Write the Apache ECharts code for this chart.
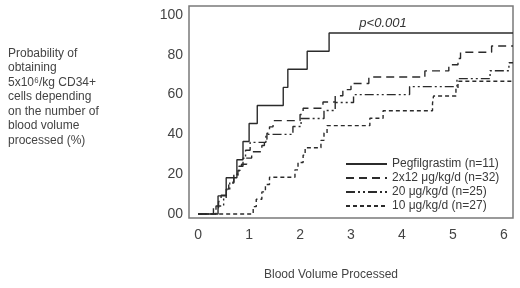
<!DOCTYPE html>
<html><head><meta charset="utf-8">
<script src="https://cdn.jsdelivr.net/npm/echarts@6/dist/echarts.min.js"></script>
<style>html,body{margin:0;padding:0;background:#fff}#c{width:520px;height:288px}</style>
</head><body><div id="c"></div>
<script>
// Data
const seriesNames = ['Pegfilgrastim (n=11)', '2x12 μg/kg/d (n=32)', '20 μg/kg/d (n=25)', '10 μg/kg/d (n=27)'];
const pegX = [0, 0.39, 0.55, 0.76, 0.88, 1.0, 1.16, 1.67, 1.76, 2.14, 2.57];
const pegY = [0, 9.1, 18.2, 27.3, 36.4, 45.5, 54.5, 63.6, 72.7, 81.8, 90.9];
const d2x12X = [0, 0.3, 0.4, 0.45, 0.55, 0.6, 0.7, 0.78, 0.85, 0.95, 1.05, 1.25, 1.3, 1.35, 1.4, 1.47, 2.0, 2.06, 2.45, 2.69, 2.84, 3.0, 3.35, 4.45, 4.92, 5.1, 5.15, 5.76];
const d2x12Y = [0, 3.1, 6.3, 9.4, 12.5, 15.6, 18.8, 21.9, 25.0, 28.1, 31.3, 34.4, 37.5, 40.6, 43.8, 46.9, 50.0, 53.1, 56.3, 59.4, 62.5, 65.6, 68.8, 71.9, 75.0, 78.1, 81.3, 84.4];
const d20X = [0, 0.35, 0.5, 0.55, 0.62, 0.7, 0.8, 0.88, 0.93, 1.02, 1.33, 1.86, 2.02, 2.47, 2.69, 3.05, 4.15, 5.08, 5.73, 6.1];
const d20Y = [0, 4, 8, 12, 16, 20, 24, 28, 32, 36, 40, 44, 48, 52, 56, 60, 64, 68, 72, 76];
const d10X = [0, 1.08, 1.14, 1.25, 1.32, 1.4, 1.9, 1.96, 2.06, 2.1, 2.41, 2.47, 2.53, 3.37, 3.63, 4.6, 4.62, 5.06, 5.1];
const d10Y = [0, 3.7, 7.4, 11.1, 14.8, 18.5, 22.2, 25.9, 29.6, 33.3, 37.0, 40.7, 44.4, 48.1, 51.9, 55.6, 59.3, 63.0, 66.7];
const xTicks = [0, 1, 2, 3, 4, 5, 6];
const yTicks = [0, 20, 40, 60, 80, 100];
const yTickLabels = ['00', '20', '40', '60', '80', '100'];
const X_MIN = -0.18, X_MAX = 6.18, Y_MIN = -2, Y_MAX = 104.5;

function pts(xs, ys) {
  const out = xs.map((x, i) => [x, ys[i]]);
  out.push([X_MAX, ys[ys.length - 1]]);
  return out;
}
const lineCol = '#2b2b2b';
const styles = [
  { type: 'solid' },
  { type: [8, 5] },
  { type: [9, 3, 2, 3, 2, 3] },
  { type: [4, 3] }
];
const dataSets = [[pegX, pegY], [d2x12X, d2x12Y], [d20X, d20Y], [d10X, d10Y]];

const chart = echarts.init(document.getElementById('c'));
chart.setOption({
  animation: false,
  grid: { left: 189, top: 6, right: 7, bottom: 70, show: true, borderColor: '#7a7a7a', borderWidth: 1.5, backgroundColor: 'transparent' },
  xAxis: {
    type: 'value', min: X_MIN, max: X_MAX,
    axisLine: { show: false }, axisTick: { show: false }, splitLine: { show: false },
    axisLabel: { customValues: xTicks, margin: 10, fontSize: 14, color: '#444', fontFamily: 'Liberation Sans, Arial' }
  },
  yAxis: {
    type: 'value', min: Y_MIN, max: Y_MAX,
    axisLine: { show: false }, axisTick: { show: false }, splitLine: { show: false },
    axisLabel: { customValues: yTicks, margin: 6, fontSize: 14, color: '#444', fontFamily: 'Liberation Sans, Arial',
      formatter: v => yTickLabels[yTicks.indexOf(v)] }
  },
  legend: {
    orient: 'vertical', left: 345, top: 158, itemWidth: 41, itemHeight: 8, itemGap: 2, padding: 0,
    textStyle: { fontSize: 12, lineHeight: 12, color: '#3a3a3a', fontFamily: 'Liberation Sans, Arial' },
    data: seriesNames.map(n => ({ name: n, itemStyle: { opacity: 0 } }))
  },
  series: dataSets.map((d, i) => ({
    name: seriesNames[i], type: 'line', step: 'end', symbol: 'none',
    data: pts(d[0], d[1]),
    lineStyle: Object.assign({ color: lineCol, width: 1.4 }, styles[i]),
    itemStyle: { color: lineCol }
  })),
  graphic: [
    { type: 'text', left: 8, top: 46, style: { text: 'Probability of\nobtaining\n5x10\u2076/kg CD34+\ncells depending\non the number of\nblood volume\nprocessed (%)', font: '12px "Liberation Sans", Arial', fill: '#444', lineHeight: 14.5 } },
    { type: 'text', x: 383, y: 23, style: { text: 'p<0.001', font: 'italic 13px "Liberation Sans", Arial', fill: '#333', align: 'center', verticalAlign: 'middle' } },
    { type: 'text', x: 331, y: 275, style: { text: 'Blood Volume Processed', font: '12px "Liberation Sans", Arial', fill: '#444', align: 'center', verticalAlign: 'middle' } }
  ]
});
</script></body></html>
